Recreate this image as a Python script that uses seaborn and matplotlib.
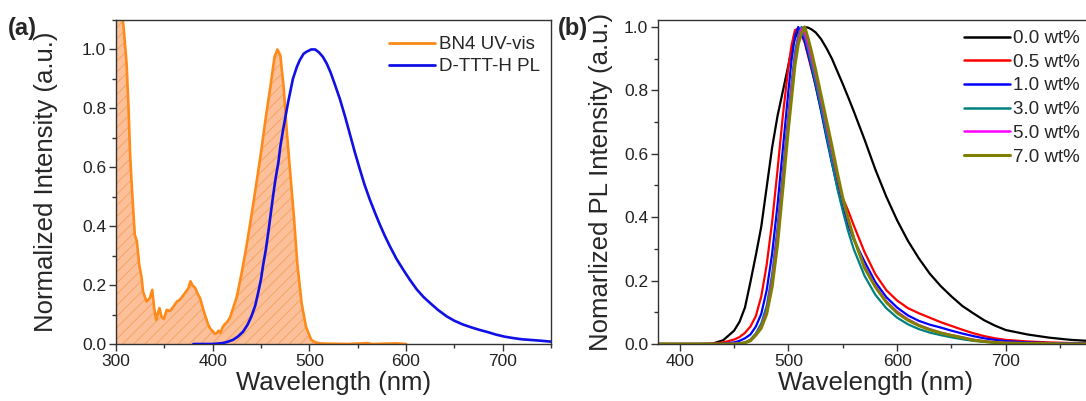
import pandas as pd
import seaborn as sns
import matplotlib.pyplot as plt
from matplotlib.ticker import MultipleLocator
from matplotlib.lines import Line2D

# ---- (a) BN4 absorption and D-TTT-H emission ----
uv_wl = [300, 303, 306, 308, 311, 313, 314.5, 316, 318.5, 319.5, 321.5, 324, 326.5, 328,
         331.5, 335, 337.5, 339.5, 341.5, 343, 345, 347, 349.5, 352.5, 356, 359, 363, 366,
         370, 375, 377, 379, 382, 385, 387, 390, 392, 395.5, 398, 400.5, 402, 404, 406, 408,
         410, 412, 415, 418, 421, 425, 430, 435, 440, 445, 450, 455, 460, 464, 467, 470,
         473.5, 476.5, 480, 484, 487.5, 492, 496.5, 502, 506, 511, 520, 540, 560, 565, 590, 600]
uv_abs = [1.35, 1.25, 1.13, 1.07, 0.95, 0.80, 0.65, 0.555, 0.42, 0.37, 0.35, 0.27, 0.225, 0.178,
          0.144, 0.156, 0.184, 0.122, 0.082, 0.10, 0.122, 0.093, 0.085, 0.116, 0.112, 0.125, 0.144, 0.15,
          0.167, 0.19, 0.213, 0.20, 0.19, 0.167, 0.156, 0.12, 0.099, 0.065, 0.05, 0.042, 0.035, 0.036, 0.045, 0.038,
          0.055, 0.065, 0.075, 0.09, 0.12, 0.161, 0.241, 0.332, 0.434, 0.54, 0.65, 0.77, 0.88, 0.975, 1.0, 0.98,
          0.87, 0.73, 0.59, 0.434, 0.275, 0.139, 0.059, 0.014, 0.006, 0.002, 0.001, 0.0, 0.003, 0.0, 0.002, 0.0]

pl_wl = [380, 400, 410, 415, 421, 426, 431.5, 436, 440, 444, 447, 450, 452, 455, 457.5, 460,
         462.5, 465, 468, 470, 473, 478, 483, 487, 490, 494, 497, 502, 506, 510, 514, 518,
         522, 526, 531.5, 537, 542, 547, 552, 557, 562.5, 568, 573, 578, 583, 590, 597, 604,
         611, 618, 625, 633, 642, 650, 659, 668, 676, 685, 693, 702, 711, 720, 728, 740, 750]
pl_int = [0.0, 0.0, 0.003, 0.007, 0.014, 0.025, 0.042, 0.065, 0.093, 0.13, 0.173, 0.22, 0.264, 0.32, 0.378, 0.44,
          0.503, 0.56, 0.617, 0.67, 0.73, 0.82, 0.90, 0.94, 0.963, 0.985, 0.992, 1.0, 1.0, 0.99, 0.975, 0.952,
          0.922, 0.885, 0.833, 0.772, 0.712, 0.652, 0.596, 0.542, 0.491, 0.445, 0.405, 0.368, 0.334, 0.29, 0.253, 0.218,
          0.186, 0.16, 0.139, 0.116, 0.094, 0.079, 0.066, 0.056, 0.048, 0.04, 0.032, 0.025, 0.02, 0.016, 0.014, 0.011, 0.008]

# ---- (b) PL of doped films ----
wl_b = [380, 420, 430, 440, 450, 455, 460, 465, 470, 475, 480, 485, 490, 495, 500, 503,
        506, 509, 512, 515, 518, 521, 525, 530, 535, 540, 545, 550, 555, 560, 570, 580,
        590, 600, 610, 620, 630, 640, 650, 660, 670, 680, 690, 700, 720, 740, 760, 780]
pl_00 = [0, 0, 0.001, 0.012, 0.042, 0.07, 0.115, 0.195, 0.28, 0.37, 0.495, 0.62, 0.72, 0.80, 0.88, 0.93,
         0.965, 0.985, 0.995, 1.0, 0.998, 0.993, 0.983, 0.962, 0.933, 0.90, 0.86, 0.82, 0.778, 0.735, 0.645, 0.55,
         0.465, 0.39, 0.325, 0.27, 0.222, 0.183, 0.15, 0.12, 0.097, 0.075, 0.058, 0.044, 0.03, 0.02, 0.013, 0.009]
pl_05 = [0, 0, 0.001, 0.005, 0.014, 0.022, 0.035, 0.055, 0.088, 0.15, 0.25, 0.385, 0.55, 0.725, 0.875, 0.945,
         0.99, 0.995, 0.975, 0.95, 0.91, 0.87, 0.815, 0.74, 0.66, 0.58, 0.51, 0.46, 0.42, 0.375, 0.29, 0.22,
         0.17, 0.137, 0.113, 0.097, 0.083, 0.069, 0.057, 0.045, 0.034, 0.025, 0.018, 0.013, 0.008, 0.005, 0.003, 0.002]
pl_10 = [0, 0, 0, 0.001, 0.005, 0.01, 0.018, 0.03, 0.055, 0.095, 0.17, 0.285, 0.44, 0.62, 0.80, 0.90,
         0.97, 1.0, 0.98, 0.955, 0.915, 0.875, 0.815, 0.735, 0.65, 0.57, 0.495, 0.43, 0.375, 0.33, 0.26, 0.195,
         0.148, 0.115, 0.09, 0.073, 0.061, 0.052, 0.042, 0.033, 0.025, 0.018, 0.013, 0.009, 0.005, 0.003, 0.002, 0.001]
pl_30 = [0, 0, 0, 0, 0.001, 0.002, 0.005, 0.014, 0.033, 0.065, 0.12, 0.22, 0.37, 0.55, 0.73, 0.83,
         0.92, 0.975, 1.0, 0.97, 0.93, 0.885, 0.825, 0.745, 0.66, 0.575, 0.49, 0.42, 0.355, 0.30, 0.215, 0.155,
         0.113, 0.083, 0.062, 0.047, 0.036, 0.028, 0.021, 0.015, 0.01, 0.007, 0.004, 0.002, 0.001, 0, 0, 0]
pl_50 = [0, 0, 0, 0, 0.001, 0.001, 0.004, 0.012, 0.03, 0.055, 0.105, 0.20, 0.345, 0.525, 0.71, 0.81,
         0.90, 0.96, 0.995, 0.98, 0.945, 0.905, 0.85, 0.77, 0.69, 0.61, 0.53, 0.455, 0.39, 0.335, 0.245, 0.183,
         0.135, 0.102, 0.078, 0.06, 0.047, 0.036, 0.028, 0.021, 0.014, 0.009, 0.006, 0.004, 0.002, 0.001, 0, 0]
pl_70 = [0, 0, 0, 0, 0, 0.001, 0.004, 0.01, 0.028, 0.05, 0.095, 0.18, 0.315, 0.495, 0.68, 0.78,
         0.88, 0.945, 0.98, 1.0, 0.965, 0.925, 0.865, 0.785, 0.705, 0.625, 0.54, 0.46, 0.395, 0.335, 0.24, 0.18,
         0.132, 0.098, 0.075, 0.058, 0.045, 0.035, 0.027, 0.02, 0.012, 0.008, 0.005, 0.003, 0.002, 0.001, 0, 0]
dopings = ["0.0 wt%", "0.5 wt%", "1.0 wt%", "3.0 wt%", "5.0 wt%", "7.0 wt%"]
doping_colors = ["#000000", "#FF0000", "#0000FF", "#008080", "#FF00FF", "#808000"]

sns.set_theme(style="ticks")
plt.rcParams["font.family"] = ["Liberation Sans", "DejaVu Sans"]
plt.rcParams["hatch.linewidth"] = 0.6

ORANGE = "#FF8A1A"
BLUE = "#1010E6"
AX_COLOR = "#333333"

fig = plt.figure(figsize=(10.86, 4.01), dpi=100)
ax_a = fig.add_axes([0.10681, 0.14214, 0.40055, 0.80798])
ax_b = fig.add_axes([0.60589, 0.14214, 0.40037, 0.80798])


def style_axes(ax):
    for sp in ax.spines.values():
        sp.set_color(AX_COLOR)
        sp.set_linewidth(1.0)
        sp.set_visible(True)
    ax.tick_params(which="major", direction="out", length=5, width=1.0,
                   color=AX_COLOR, labelsize=12.5, labelcolor="#222222", pad=2)
    ax.tick_params(which="minor", direction="out", length=3, width=1.0, color=AX_COLOR)
    ax.xaxis.set_major_locator(MultipleLocator(100))
    ax.xaxis.set_minor_locator(MultipleLocator(50))
    ax.yaxis.set_major_locator(MultipleLocator(0.2))
    ax.yaxis.set_minor_locator(MultipleLocator(0.1))
    ax.yaxis.set_major_formatter(plt.FormatStrFormatter("%.1f"))
    ax.grid(False)


# ---- panel (a) ----
ax_a.fill_between(uv_wl, uv_abs, 0, facecolor="#FBC09A", edgecolor="#F6A05A",
                  hatch="///", linewidth=0, zorder=1)
sns.lineplot(x=uv_wl, y=uv_abs, ax=ax_a, color=ORANGE, linewidth=1.9,
             sort=False, estimator=None, zorder=2)
sns.lineplot(x=pl_wl, y=pl_int, ax=ax_a, color=BLUE, linewidth=1.9,
             sort=False, estimator=None, zorder=3)
ax_a.set_xlim(300, 750)
ax_a.set_ylim(0, 1.1)
style_axes(ax_a)
ax_a.set_xlabel("Wavelength (nm)", fontsize=18.5)
ax_a.set_ylabel("Normalized Intensity (a.u.)", fontsize=18.5)
ax_a.xaxis.set_label_coords(0.5, -0.083)
ax_a.yaxis.set_label_coords(-0.133, 0.5)
handles_a = [Line2D([], [], color=ORANGE, lw=2.0), Line2D([], [], color=BLUE, lw=2.0)]
ax_a.legend(handles_a, ["BN4 UV-vis", "D-TTT-H PL"], loc="upper right",
            bbox_to_anchor=(540 / 1086, 1 - 36 / 401), bbox_transform=fig.transFigure,
            frameon=False, fontsize=13.5, handlelength=2.45, handletextpad=0.2,
            labelspacing=0.26, borderpad=0, borderaxespad=0)

# ---- panel (b) ----
frames = []
for name, vals in zip(dopings, [pl_00, pl_05, pl_10, pl_30, pl_50, pl_70]):
    frames.append(pd.DataFrame({"wl": wl_b, "I": vals, "doping": name}))
df_b = pd.concat(frames, ignore_index=True)
sns.lineplot(data=df_b, x="wl", y="I", hue="doping", hue_order=dopings,
             palette=doping_colors, linewidth=1.6, sort=False, estimator=None,
             legend=False, ax=ax_b)
ax_b.lines[-1].set_linewidth(2.2)
ax_b.set_xlim(380, 780)
ax_b.set_ylim(0, 1.022)
style_axes(ax_b)
ax_b.set_xlabel("Wavelength (nm)", fontsize=18.5)
ax_b.set_ylabel("Nomarlized PL Intensity (a.u.)", fontsize=18.5)
ax_b.xaxis.set_label_coords(0.5, -0.083)
ax_b.yaxis.set_label_coords(-0.1035, 0.5)
handles_b = [Line2D([], [], color=c, lw=2.2 if i == 5 else 1.8) for i, c in enumerate(doping_colors)]
ax_b.legend(handles_b, dopings, loc="upper right",
            bbox_to_anchor=(1080 / 1086, 1 - 30 / 401), bbox_transform=fig.transFigure,
            frameon=False, fontsize=13.5, handlelength=2.45, handletextpad=0.2,
            labelspacing=0.35, borderpad=0, borderaxespad=0)

fig.text(8 / 1086, 1 - 29 / 401, "(a)", fontsize=17, fontweight="bold", va="center", ha="left")
fig.text(558 / 1086, 1 - 29 / 401, "(b)", fontsize=17, fontweight="bold", va="center", ha="left")

fig.savefig("out.png", dpi=100)
